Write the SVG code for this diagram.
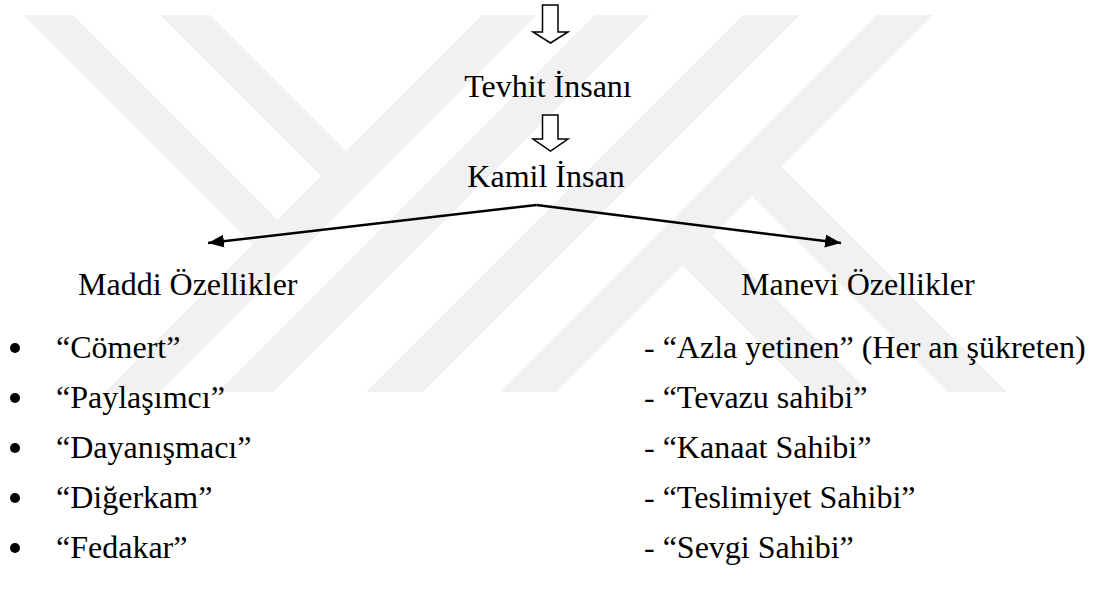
<svg xmlns="http://www.w3.org/2000/svg" width="1093" height="596" viewBox="0 0 1093 596">
  <style>
    .t { font-family: "Times New Roman", Times, "Liberation Serif", Tinos, "Nimbus Roman", "Nimbus Roman No9 L", FreeSerif, "DejaVu Serif", "Noto Serif", serif; font-size: 32px; fill: #000; }
    .c { text-anchor: middle; }
    .wm { fill: #f1f1f1; }
    .blk { fill: #fff; stroke: #000; stroke-width: 1.5; stroke-linejoin: miter; }
    .ln { fill: none; stroke: #000; stroke-width: 2.5; }
  </style>
  <defs>
    <marker id="ah" markerUnits="userSpaceOnUse" markerWidth="18" markerHeight="14" refX="16" refY="6.5" orient="auto">
      <path d="M0,0 L16,6.5 L0,13 z" fill="#000"/>
    </marker>
  </defs>
  <rect width="1093" height="596" fill="#fff"/>
  <g id="watermark">
    <polygon class="wm" points="23,15 73,15 277.5,219.5 252.5,244.5"/>
    <polygon class="wm" points="160,15 210,15 346,151 321,176"/>
    <polygon class="wm" points="482,15 537,15 160,392 105,392"/>
    <polygon class="wm" points="595,15 650,15 273,392 218,392"/>
    <polygon class="wm" points="743,15 800,15 423,392 366,392"/>
    <polygon class="wm" points="877,15 933,15 556,392 500,392"/>
    <polygon class="wm" points="781.5,166.5 1007,392 948,392 752,196"/>
    <polygon class="wm" points="712.5,235.5 869,392 809,392 682.5,265.5"/>
  </g>
  <g id="connectors">
    <polygon class="blk" points="542.5,5 558,5 558,32 568,32 550.5,43 533,32 542.5,32"/>
    <polygon class="blk" points="542.5,115 558,115 558,139 568,139 550.5,151 533,139 542.5,139"/>
    <line class="ln" x1="536.5" y1="205" x2="208" y2="243" marker-end="url(#ah)"/>
    <line class="ln" x1="536.5" y1="205" x2="841" y2="243" marker-end="url(#ah)"/>
  </g>
  <g id="tevhit">
    <text class="t c" x="548" y="97">Tevhit İnsanı</text>
  </g>
  <g id="kamil">
    <text class="t c" x="546" y="187">Kamil İnsan</text>
  </g>
  <g id="maddi">
    <text class="t" x="78" y="295">Maddi Özellikler</text>
    <g fill="#000">
      <circle cx="15" cy="348" r="5"/>
      <circle cx="15" cy="398" r="5"/>
      <circle cx="15" cy="448" r="5"/>
      <circle cx="15" cy="498" r="5"/>
      <circle cx="15" cy="548" r="5"/>
    </g>
    <text class="t" x="56" y="358">“Cömert”</text>
    <text class="t" x="56" y="408">“Paylaşımcı”</text>
    <text class="t" x="56" y="458">“Dayanışmacı”</text>
    <text class="t" x="56" y="508">“Diğerkam”</text>
    <text class="t" x="56" y="558">“Fedakar”</text>
  </g>
  <g id="manevi">
    <text class="t" x="741" y="295">Manevi Özellikler</text>
    <text class="t" x="644" y="358">- “Azla yetinen” (Her an şükreten)</text>
    <text class="t" x="644" y="408">- “Tevazu sahibi”</text>
    <text class="t" x="644" y="458">- “Kanaat Sahibi”</text>
    <text class="t" x="644" y="508">- “Teslimiyet Sahibi”</text>
    <text class="t" x="644" y="558">- “Sevgi Sahibi”</text>
  </g>
</svg>
